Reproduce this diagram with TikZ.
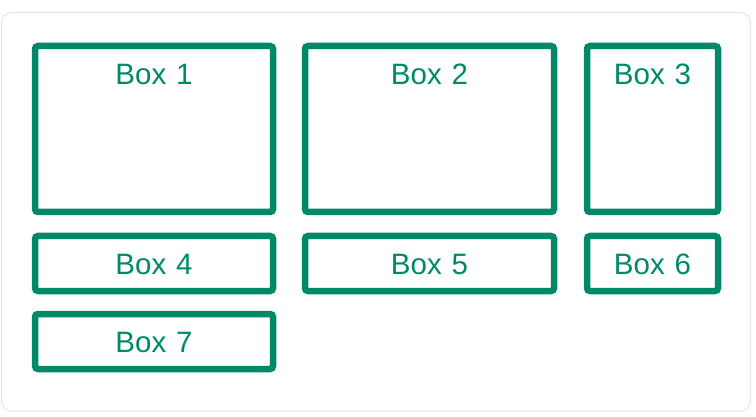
\documentclass[tikz,border=0pt]{standalone}
\usepackage{fontspec}
\setmainfont{Liberation Sans}
\definecolor{boxgreen}{RGB}{0,137,104}
\definecolor{framegray}{RGB}{227,227,240}
\begin{document}
\begin{tikzpicture}[x=1pt,y=-1pt,
  box/.style={draw=boxgreen, line width=6.5pt, rounded corners=3pt, inner sep=0pt,
    text=boxgreen, font=\fontsize{29.5}{31}\selectfont, anchor=center},
  tallbox/.style={box, minimum height=166pt, text height=39pt, text depth=127pt},
  flatbox/.style={box, minimum height=55pt, text height=38pt, text depth=17pt}]
\useasboundingbox (0,0) rectangle (756,417);
\draw[framegray, line width=1pt, rounded corners=10pt] (1.5,12.5) rectangle (750.5,411);
\node[tallbox, minimum width=238pt, text width=238pt, align=center] (b1) at (154,129) {Box 1};
\node[tallbox, minimum width=249pt, text width=249pt, align=center] (b2) at (429.5,129) {Box 2};
\node[tallbox, minimum width=131pt, text width=131pt, align=center] (b3) at (652.5,129) {Box 3};
\node[flatbox, minimum width=238pt, text width=238pt, align=center] (b4) at (154,263.5) {Box 4};
\node[flatbox, minimum width=249pt, text width=249pt, align=center] (b5) at (429.5,263.5) {Box 5};
\node[flatbox, minimum width=131pt, text width=131pt, align=center] (b6) at (652.5,263.5) {Box 6};
\node[flatbox, minimum width=238pt, text width=238pt, align=center] (b7) at (154,341.5) {Box 7};
\end{tikzpicture}
\end{document}
